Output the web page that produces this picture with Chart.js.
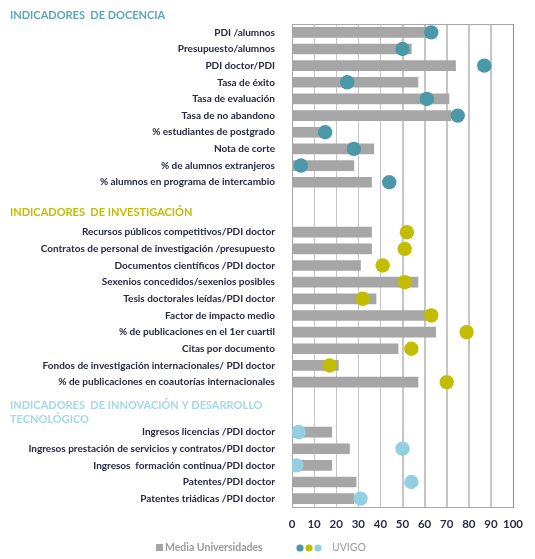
<!DOCTYPE html>
<html>
<head>
<meta charset="utf-8">
<script src="https://cdn.jsdelivr.net/npm/chart.js@4"></script>
<style>
  html, body { margin: 0; padding: 0; background: #fff; }
  #wrap { width: 535px; height: 559px; position: relative; }
</style>
</head>
<body>
<div id="wrap"><canvas id="chart"></canvas></div>
<script>
// --- data ---
const docenciaLabels = [
  'PDI /alumnos', 'Presupuesto/alumnos', 'PDI doctor/PDI', 'Tasa de éxito',
  'Tasa de evaluación', 'Tasa de no abandono', '% estudiantes de postgrado',
  'Nota de corte', '% de alumnos extranjeros', '% alumnos en programa de intercambio'
];
const docenciaMedia = [62, 54, 74, 57, 71, 72, 13, 37, 28, 36];
const docenciaUvigo = [63, 50, 87, 25, 61, 75, 15, 28, 4, 44];

const investigacionLabels = [
  'Recursos públicos competitivos/PDI doctor',
  'Contratos de personal de investigación /presupuesto',
  'Documentos científicos /PDI doctor',
  'Sexenios concedidos/sexenios posibles',
  'Tesis doctorales leídas/PDI doctor',
  'Factor de impacto medio',
  '% de publicaciones en el 1er cuartil',
  'Citas por documento',
  'Fondos de investigación internacionales/ PDI doctor',
  '% de publicaciones en coautorías internacionales'
];
const investigacionMedia = [36, 36, 31, 57, 38, 62, 65, 48, 21, 57];
const investigacionUvigo = [52, 51, 41, 51, 32, 63, 79, 54, 17, 70];

const innovacionLabels = [
  'Ingresos licencias /PDI doctor',
  'Ingresos prestación de servicios y contratos/PDI doctor',
  'Ingresos  formación continua/PDI doctor',
  'Patentes/PDI doctor',
  'Patentes triádicas /PDI doctor'
];
const innovacionMedia = [18, 26, 18, 29, 28];
const innovacionUvigo = [3, 50, 2, 54, 31];

const xTicks = [0, 10, 20, 30, 40, 50, 60, 70, 80, 90, 100];
const headings = ['INDICADORES  DE DOCENCIA', 'INDICADORES  DE INVESTIGACIÓN',
  'INDICADORES  DE INNOVACIÓN Y DESARROLLO', 'TECNOLÓGICO'];

// --- build the category rows: two empty rows between sections ---
const gap = ['', ''];
const gapVals = [null, null];
const labels = [...docenciaLabels, ...gap, ...investigacionLabels, ...gap, ...innovacionLabels];
const mediaData = [...docenciaMedia, ...gapVals, ...investigacionMedia, ...gapVals, ...innovacionMedia];
const blank = n => new Array(n).fill(null);
const uvigoDoc = [...docenciaUvigo, ...blank(labels.length - docenciaUvigo.length)];
const uvigoInv = [...blank(12), ...investigacionUvigo, ...blank(7)];
const uvigoInn = [...blank(24), ...innovacionUvigo];

const TEAL = '#4b98a8';
const OLIVE = '#c2bd00';
const LIGHT = '#92d0e1';
const GREY = '#a6a6a6';
const FRAME = '#a8a8a8';
const GRID = '#c6c6c6';

// grid + frame painted as 1px filled rects, placed from the x scale ticks
const gridFrame = {
  id: 'gridFrame',
  beforeDatasetsDraw(chart) {
    const { ctx, chartArea: a, scales: { x } } = chart;
    const top = Math.round(a.top), bottom = Math.round(a.bottom);
    const left = Math.round(a.left), right = Math.round(a.right);
    ctx.save();
    ctx.fillStyle = GRID;
    x.ticks.forEach(t => {
      const px = Math.round(x.getPixelForValue(t.value));
      ctx.fillRect(px, top, 1, bottom - top);
    });
    ctx.fillStyle = FRAME;
    ctx.fillRect(left, top, right - left + 1, 1);
    ctx.fillRect(left, bottom, right - left + 1, 1);
    ctx.fillRect(left, top, 1, bottom - top);
    ctx.fillStyle = '#8c8c8c';
    ctx.fillRect(right, top, 1, bottom - top + 1);
    ctx.restore();
  }
};

const decorations = {
  id: 'decorations',
  afterDraw(chart) {
    const { ctx, chartArea: a, scales: { y } } = chart;
    ctx.save();
    ctx.font = 'bold 11px Lato';
    ctx.textAlign = 'left';
    ctx.textBaseline = 'middle';
    ctx.fillStyle = '#5aa7b7';
    ctx.fillText(headings[0], 10, a.top - 9);
    ctx.fillStyle = OLIVE;
    ctx.fillText(headings[1], 10, y.getPixelForValue(11) - 3);
    ctx.fillStyle = '#a3d9e7';
    ctx.fillText(headings[2], 10, y.getPixelForValue(23) - 10);
    ctx.fillText(headings[3], 10, y.getPixelForValue(23) + 4);

    // legend
    const ly = 548;
    ctx.fillStyle = GREY;
    ctx.fillRect(156, ly - 4, 7, 7);
    ctx.fillStyle = '#9b9b9b';
    ctx.font = 'bold 10.5px Lato';
    ctx.fillText('Media Universidades', 165, ly);
    [TEAL, OLIVE, LIGHT].forEach((c, i) => {
      ctx.beginPath();
      ctx.fillStyle = c;
      ctx.arc(300 + i * 9, ly, 3.6, 0, Math.PI * 2);
      ctx.fill();
    });
    ctx.fillStyle = '#9b9b9b';
    ctx.font = '10.5px Lato';
    ctx.fillText('UVIGO', 332, ly);
    ctx.restore();
  }
};

const pointSet = (data, color) => ({
  type: 'line',
  data,
  showLine: false,
  pointRadius: 7.2,
  pointHoverRadius: 7.2,
  pointBackgroundColor: color,
  pointBorderWidth: 0,
  borderColor: color,
  order: 1
});

new Chart(document.getElementById('chart'), {
  type: 'bar',
  data: {
    labels,
    datasets: [
      {
        label: 'Media Universidades',
        data: mediaData,
        backgroundColor: GREY,
        barThickness: 10,
        order: 2
      },
      pointSet(uvigoDoc, TEAL),
      pointSet(uvigoInv, OLIVE),
      pointSet(uvigoInn, LIGHT)
    ]
  },
  options: {
    indexAxis: 'y',
    responsive: true,
    maintainAspectRatio: false,
    animation: false,
    layout: { padding: { left: 0, right: 22, top: 24, bottom: 24 } },
    plugins: {
      legend: { display: false },
      tooltip: { enabled: false }
    },
    scales: {
      x: {
        min: xTicks[0],
        max: xTicks[xTicks.length - 1],
        afterFit(scale) { scale.height = 28; },
        grid: { color: GRID, drawTicks: false },
        border: { display: false },
        ticks: {
          stepSize: 10,
          autoSkip: false,
          padding: 10,
          maxRotation: 0,
          minRotation: 0,
          color: '#2b2c48',
          font: { size: 11.5, weight: 'bold', family: 'Lato' }
        }
      },
      y: {
        afterFit(scale) { scale.width = 292; },
        grid: { display: false },
        border: { display: false },
        ticks: {
          padding: 9,
          autoSkip: false,
          color: '#262741',
          font: { size: 10, weight: 'bold', family: 'Lato' }
        }
      }
    }
  },
  plugins: [gridFrame, decorations]
});
</script>
</body>
</html>
